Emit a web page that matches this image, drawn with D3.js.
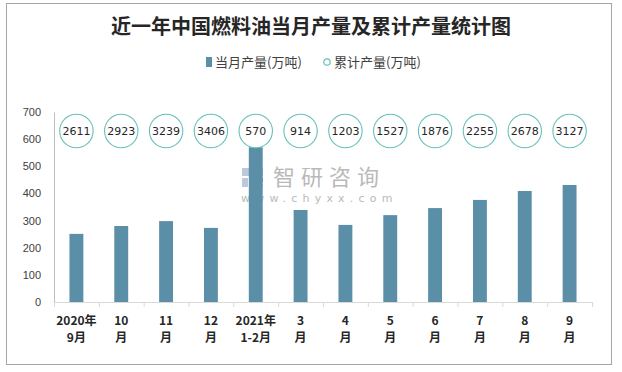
<!DOCTYPE html>
<html>
<head>
<meta charset="utf-8">
<script src="https://cdn.jsdelivr.net/npm/d3@7"></script>
<style>
  body { margin: 0; background: #fff; }
  svg { display: block; }
</style>
</head>
<body>
<div id="chart"></div>
<script>
// data
const months = [["2020年", "9月"], ["10", "月"], ["11", "月"], ["12", "月"], ["2021年", "1-2月"],
    ["3", "月"], ["4", "月"], ["5", "月"], ["6", "月"], ["7", "月"], ["8", "月"], ["9", "月"]];
const monthly = [251, 280, 298, 273, 570, 339, 284, 320, 346, 376, 409, 431];
const cumulative = [2611, 2923, 3239, 3406, 570, 914, 1203, 1527, 1876, 2255, 2678, 3127];
const yTicks = [0, 100, 200, 300, 400, 500, 600, 700];

const width = 622, height = 372;
const barColor = "#5b8fa8";
const ringColor = "#66c2b9";

const svg = d3.select("#chart").append("svg")
    .attr("width", width)
    .attr("height", height);

// outer frame
svg.append("rect")
    .attr("x", 6.5)
    .attr("y", 3.5)
    .attr("width", 605)
    .attr("height", 361)
    .attr("fill", "#fff")
    .attr("stroke", "#a6a6a6")
    .attr("stroke-width", 1);

// Title
svg.append("text")
    .attr("x", 311)
    .attr("y", 34)
    .attr("font-family", "'Noto Sans CJK SC', sans-serif")
    .attr("font-size", "20px")
    .attr("font-weight", "bold")
    .attr("fill", "#262626")
    .style("text-anchor", "middle")
    .text("近一年中国燃料油当月产量及累计产量统计图");

// Legend
svg.append("rect")
    .attr("x", 206)
    .attr("y", 57)
    .attr("width", 6)
    .attr("height", 10)
    .attr("fill", barColor);
svg.append("text")
    .attr("x", 215)
    .attr("y", 67)
    .attr("font-family", "'Noto Sans CJK SC', sans-serif")
    .attr("font-size", "13px")
    .attr("fill", "#404040")
    .text("当月产量(万吨)");
svg.append("circle")
    .attr("cx", 327)
    .attr("cy", 62)
    .attr("r", 3.2)
    .attr("fill", "#fff")
    .attr("stroke", ringColor)
    .attr("stroke-width", 1.2);
svg.append("text")
    .attr("x", 334)
    .attr("y", 67)
    .attr("font-family", "'Noto Sans CJK SC', sans-serif")
    .attr("font-size", "13px")
    .attr("fill", "#404040")
    .text("累计产量(万吨)");

// scales
const x = d3.scaleBand()
    .domain(d3.range(months.length))
    .range([54, 592])
    .paddingInner(0.69)
    .paddingOuter(0.345);
const xStep = d3.scaleBand().domain(d3.range(months.length)).range([54, 592]);

const y = d3.scaleLinear()
    .domain([0, 700])
    .range([302, 112]);

// watermark (behind the bars)
const wm = svg.append("g").attr("opacity", 0.6);
wm.append("rect").attr("x", 242).attr("y", 168).attr("width", 9).attr("height", 8).attr("fill", "#8fa6c2");
wm.append("rect").attr("x", 253).attr("y", 168).attr("width", 10).attr("height", 8).attr("fill", "#8fa6c2");
wm.append("rect").attr("x", 242).attr("y", 178).attr("width", 6).attr("height", 9).attr("fill", "#8fa6c2");
wm.append("rect").attr("x", 250).attr("y", 178).attr("width", 13).attr("height", 4).attr("fill", "#3f6fa8");
wm.append("rect").attr("x", 250).attr("y", 184).attr("width", 13).attr("height", 3).attr("fill", "#8fa6c2");
wm.append("text")
    .attr("x", 273)
    .attr("y", 185)
    .attr("font-family", "'Noto Sans CJK SC', sans-serif")
    .attr("font-size", "22px")
    .attr("letter-spacing", "6px")
    .attr("fill", "#8c8c8c")
    .text("智研咨询");
wm.append("text")
    .attr("x", 241)
    .attr("y", 202)
    .attr("font-family", "'DejaVu Sans', sans-serif")
    .attr("font-size", "11px")
    .attr("letter-spacing", "5.2px")
    .attr("fill", "#8c8c8c")
    .text("www.chyxx.com");

// y axis
const yAxis = svg.append("g")
    .attr("transform", "translate(54,0)")
    .call(d3.axisLeft(y).tickValues(yTicks).tickSize(0).tickPadding(13));
yAxis.select(".domain").attr("stroke", "#bfbfbf");
yAxis.selectAll("text")
    .attr("font-family", "'Liberation Sans', Arial, sans-serif")
    .attr("font-size", "11px")
    .attr("fill", "#404040");

// x axis line + ticks at band boundaries
const xAxis = svg.append("g")
    .attr("transform", "translate(0,302)")
    .call(d3.axisBottom(d3.scaleLinear().domain([0, months.length]).range([54, 592]))
        .tickValues(d3.range(months.length + 1))
        .tickSize(5)
        .tickSizeOuter(0)
        .tickFormat(""));
xAxis.select(".domain").attr("stroke", "#d9d9d9");
xAxis.selectAll(".tick line").attr("stroke", "#d9d9d9");

// bars
svg.append("g").selectAll("rect")
    .data(monthly)
    .join("rect")
    .attr("x", (d, i) => x(i))
    .attr("y", d => y(d))
    .attr("width", x.bandwidth())
    .attr("height", d => y(0) - y(d))
    .attr("fill", barColor);

// cumulative bubbles
const bubbles = svg.append("g").selectAll("g")
    .data(cumulative)
    .join("g")
    .attr("transform", (d, i) => `translate(${xStep(i) + xStep.bandwidth() / 2},131)`);
bubbles.append("circle")
    .attr("r", 16.7)
    .attr("fill", "#fff")
    .attr("stroke", ringColor)
    .attr("stroke-width", 1.1);
bubbles.append("text")
    .attr("y", 4.2)
    .attr("font-family", "'DejaVu Sans', sans-serif")
    .attr("font-size", "11px")
    .attr("fill", "#262626")
    .style("text-anchor", "middle")
    .text(d => d);

// category labels (two lines)
const labels = svg.append("g").selectAll("text")
    .data(months)
    .join("text")
    .attr("x", (d, i) => xStep(i) + xStep.bandwidth() / 2)
    .attr("font-family", "'Noto Sans CJK SC', sans-serif")
    .attr("font-size", "12px")
    .attr("font-weight", "bold")
    .attr("fill", "#262626")
    .style("text-anchor", "middle");
labels.append("tspan")
    .attr("x", (d, i) => xStep(i) + xStep.bandwidth() / 2)
    .attr("y", 325)
    .text(d => d[0]);
labels.append("tspan")
    .attr("x", (d, i) => xStep(i) + xStep.bandwidth() / 2)
    .attr("y", 342)
    .text(d => d[1]);
</script>
</body>
</html>
